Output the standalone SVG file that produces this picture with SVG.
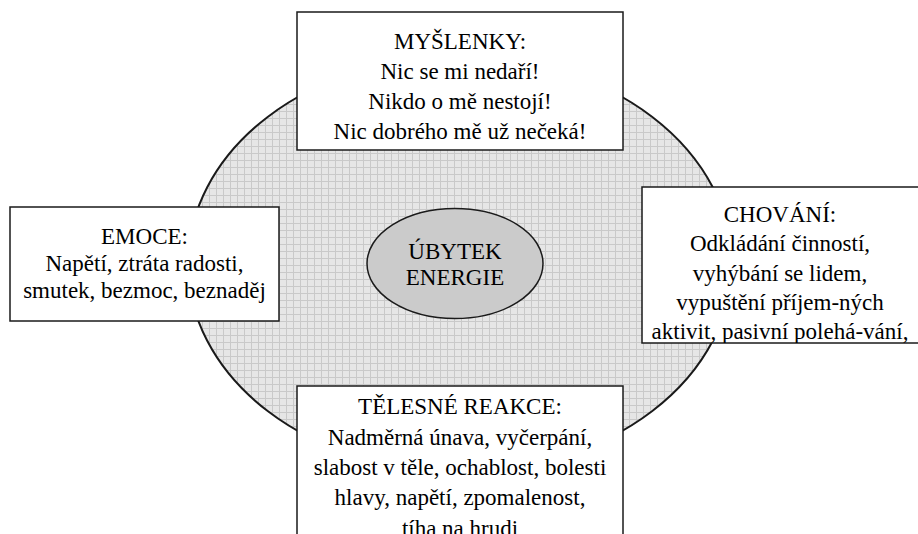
<svg xmlns="http://www.w3.org/2000/svg" width="918" height="534" viewBox="0 0 918 534">
<style>
.box{fill:#ffffff;stroke:#1a1a1a;stroke-width:1.5}
.t{font-family:"Liberation Serif","Times New Roman",serif;font-size:23px;fill:#000000;text-anchor:middle}
</style>
<defs>
<pattern id="grid" width="7" height="7" patternUnits="userSpaceOnUse">
<rect width="7" height="7" fill="#e6e6e6"/>
<path d="M6.5 0V7M0 6.5H7" stroke="#c9c9c9" stroke-width="1" fill="none"/>
</pattern>
<clipPath id="clipR"><rect x="642" y="187" width="276" height="156"/></clipPath>
</defs>
<rect width="918" height="534" fill="#ffffff"/>
<g id="connectors">
<ellipse id="cycle" cx="460" cy="264" rx="272" ry="208" fill="url(#grid)" stroke="#1a1a1a" stroke-width="2"/>
</g>
<g id="myslenky">
<rect class="box" x="297" y="12" width="326" height="138"/>
<text class="t" x="460" y="49">MYŠLENKY:</text>
<text class="t" x="460" y="79">Nic se mi nedaří!</text>
<text class="t" x="460" y="109">Nikdo o mě nestojí!</text>
<text class="t" x="460" y="139">Nic dobrého mě už nečeká!</text>
</g>
<g id="emoce">
<rect class="box" x="10" y="207" width="269" height="114"/>
<text class="t" x="144.5" y="244">EMOCE:</text>
<text class="t" x="144.5" y="271">Napětí, ztráta radosti,</text>
<text class="t" x="144.5" y="298">smutek, bezmoc, beznaděj</text>
</g>
<g id="chovani">
<rect class="box" x="642" y="187" width="280" height="156"/>
<g clip-path="url(#clipR)">
<text class="t" x="780" y="222">CHOVÁNÍ:</text>
<text class="t" x="780" y="251">Odkládání činností,</text>
<text class="t" x="780" y="281">vyhýbání se lidem,</text>
<text class="t" x="780" y="310">vypuštění příjem-ných</text>
<text class="t" x="780" y="339">aktivit, pasivní polehá-vání,</text>
</g>
</g>
<g id="telesne">
<rect class="box" x="297" y="386" width="326" height="160"/>
<text class="t" x="460" y="414">TĚLESNÉ REAKCE:</text>
<text class="t" x="460" y="445">Nadměrná únava, vyčerpání,</text>
<text class="t" x="460" y="475">slabost v těle, ochablost, bolesti</text>
<text class="t" x="460" y="505">hlavy, napětí, zpomalenost,</text>
<text class="t" x="460" y="536">tíha na hrudi</text>
</g>
<g id="ubytek">
<ellipse cx="455" cy="263.5" rx="88" ry="55" fill="#cbcbcb" stroke="#1a1a1a" stroke-width="1.5"/>
<text class="t" x="455" y="259">ÚBYTEK</text>
<text class="t" x="455" y="285">ENERGIE</text>
</g>
</svg>
